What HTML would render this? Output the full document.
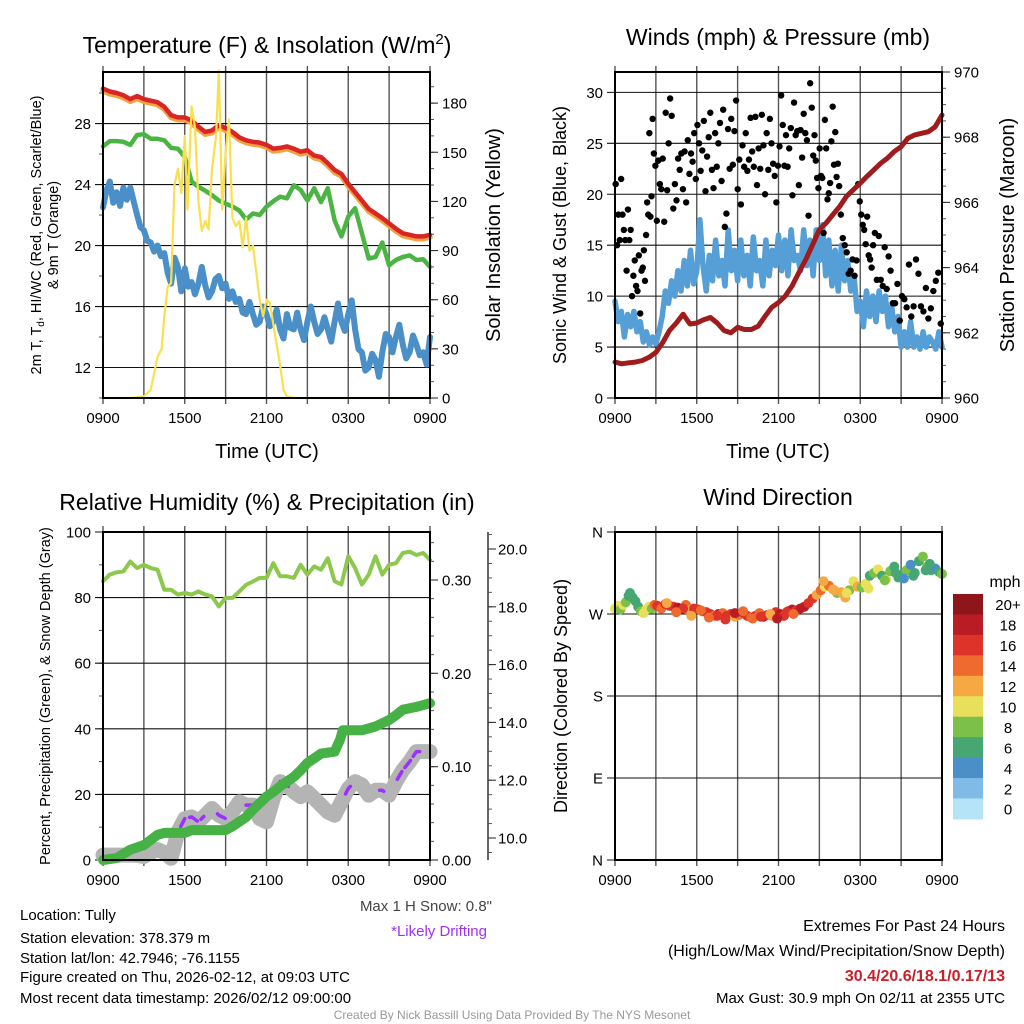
<!DOCTYPE html>
<html><head><meta charset="utf-8"><style>
html,body{margin:0;padding:0;background:#fff;}
svg{display:block;font-family:"Liberation Sans",sans-serif;}
</style></head><body>
<svg id="chart" width="1024" height="1024" viewBox="0 0 1024 1024" xmlns="http://www.w3.org/2000/svg">
<rect width="1024" height="1024" fill="#fff"/>
<text x="267" y="53" font-size="23" text-anchor="middle">Temperature (F) &amp; Insolation (W/m<tspan dy="-9" font-size="15">2</tspan><tspan dy="9">)</tspan></text>
<text x="778" y="45" font-size="23" text-anchor="middle">Winds (mph) &amp; Pressure (mb)</text>
<text x="267" y="510" font-size="23" text-anchor="middle">Relative Humidity (%) &amp; Precipitation (in)</text>
<text x="778" y="505" font-size="23" text-anchor="middle">Wind Direction</text>
<text x="267" y="458" font-size="20" text-anchor="middle">Time (UTC)</text>
<text x="778" y="458" font-size="20" text-anchor="middle">Time (UTC)</text>
<text transform="translate(41,235) rotate(-90)" font-size="14.5" text-anchor="middle">2m T, T<tspan font-size="10" dy="3">d</tspan><tspan dy="-3">, HI/WC (Red, Green, Scarlet/Blue)</tspan></text>
<text transform="translate(58,235) rotate(-90)" font-size="14.5" text-anchor="middle">&amp; 9m T (Orange)</text>
<text transform="translate(500,235) rotate(-90)" font-size="20" text-anchor="middle">Solar Insolation (Yellow)</text>
<text transform="translate(566,235) rotate(-90)" font-size="18" text-anchor="middle">Sonic Wind &amp; Gust (Blue, Black)</text>
<text transform="translate(1014,235) rotate(-90)" font-size="20" text-anchor="middle">Station Pressure (Maroon)</text>
<text transform="translate(50,696) rotate(-90)" font-size="14.5" text-anchor="middle">Percent, Precipitation (Green), &amp; Snow Depth (Gray)</text>
<text transform="translate(567,696) rotate(-90)" font-size="18" text-anchor="middle">Direction (Colored By Speed)</text>
<text x="1005" y="587" font-size="16" text-anchor="middle">mph</text>
<g font-size="15">
<text x="20" y="920">Location: Tully</text>
<text x="20" y="943">Station elevation: 378.379 m</text>
<text x="20" y="963">Station lat/lon: 42.7946; -76.1155</text>
<text x="20" y="982">Figure created on Thu, 2026-02-12, at 09:03 UTC</text>
<text x="20" y="1003">Most recent data timestamp: 2026/02/12 09:00:00</text>
<text x="492" y="911" text-anchor="end" fill="#444">Max 1 H Snow: 0.8"</text>
<text x="487" y="936" text-anchor="end" fill="#a030f0">*Likely Drifting</text>
<text x="1005" y="931" text-anchor="end" font-size="16">Extremes For Past 24 Hours</text>
<text x="1005" y="956" text-anchor="end" font-size="16">(High/Low/Max Wind/Precipitation/Snow Depth)</text>
<text x="1005" y="981" text-anchor="end" font-size="16" font-weight="bold" fill="#c8202a">30.4/20.6/18.1/0.17/13</text>
<text x="1005" y="1003" text-anchor="end">Max Gust: 30.9 mph On 02/11 at 2355 UTC</text>
</g>
<text x="512" y="1019" text-anchor="middle" font-size="12" fill="#999">Created By Nick Bassill Using Data Provided By The NYS Mesonet</text>
</svg>
<script>
// ---------- DATA ----------
const xTickLabels = ['0900','1500','2100','0300','0900'];
const tempRed = [30.3,30.1,30.0,29.85,29.6,29.8,29.6,29.5,29.4,29.1,28.55,28.4,28.4,28.2,27.8,27.45,27.55,27.9,27.7,27.45,27.1,26.9,26.8,26.75,26.6,26.35,26.4,26.5,26.35,26.15,26.25,25.9,25.8,25.4,24.95,24.7,24.05,23.5,22.95,22.4,22.1,21.8,21.45,21.1,20.8,20.7,20.6,20.6,20.7];
const temp9m = [30.15,29.95,29.85,29.7,29.45,29.65,29.45,29.35,29.25,28.95,28.4,28.25,28.25,28.05,27.65,27.3,27.4,27.75,27.55,27.3,26.95,26.75,26.65,26.6,26.45,26.2,26.25,26.35,26.2,26.0,26.1,25.75,25.65,25.25,24.8,24.55,23.9,23.35,22.8,22.25,21.95,21.65,21.3,20.95,20.65,20.55,20.45,20.45,20.55];
const dewGreen = [26.5,26.85,26.85,26.8,26.6,27.25,27.3,27.0,27.0,26.9,26.4,26.35,25.8,24.2,23.85,23.6,23.3,22.95,22.75,22.55,22.3,21.7,22.1,22.0,22.55,22.9,23.2,23.1,23.95,23.65,22.95,23.75,22.85,23.75,21.65,20.6,21.9,22.45,20.8,19.15,19.25,20.2,18.7,19.05,19.25,19.35,19.05,19.1,18.6];
const windChill = [22.5,23.6,24.2,22.8,23.5,22.6,23.8,23.0,23.8,22.9,22.0,21.2,21.0,20.3,20.2,19.6,20.0,19.3,19.5,18.2,17.5,19.2,18.6,17.0,18.5,17.3,17.6,16.8,17.5,18.6,17.4,16.6,17.0,17.8,18.0,17.2,17.5,16.5,17.0,16.3,16.5,15.6,15.5,16.3,15.5,14.8,15.0,16.0,15.5,14.7,15.0,15.8,14.5,13.9,15.5,14.6,14.5,15.6,14.5,13.8,15.0,16.0,15.0,14.2,14.5,15.3,14.5,13.7,15.0,16.2,15.0,14.4,15.5,16.4,14.5,13.2,13.0,11.8,12.0,12.9,12.5,11.4,13.0,14.2,14.0,13.0,14.0,14.8,13.5,12.6,13.0,14.1,13.5,12.8,13.0,12.2,14.0];
const solarHours = [0,1,2,3,3.5,4,4.3,4.5,4.75,5,5.25,5.5,5.75,6,6.2,6.5,6.75,7,7.25,7.5,7.75,8,8.3,8.5,8.75,9,9.25,9.5,9.75,10,10.25,10.5,10.75,11,11.5,11.75,12,12.25,12.5,13,13.25,13.5,14,24];
const solarValues = [0,0,0,1,5,25,30,50,68,70,130,140,125,160,115,178,165,120,102,108,103,140,160,200,115,150,170,110,105,108,92,110,90,93,60,50,60,58,45,20,5,1,0,0];
const windSpeed = [9.5,7.5,8.5,6.0,8.2,7.0,8.5,6.5,7.5,5.5,6.5,5.2,6.0,5.3,6.5,8.0,10.5,9.3,11.5,10.0,12.5,10.5,13.5,11.0,14.5,11.2,12.5,17.5,13.0,10.5,14.0,11.5,15.5,12.0,13.5,11.0,16.5,12.5,14.5,11.5,15.5,12.0,14.0,11.0,15.8,12.5,13.5,11.0,15.5,12.0,14.5,13.0,16.0,12.5,15.5,12.0,16.5,13.5,14.0,12.5,16.5,13.0,15.5,12.0,16.5,13.5,17.0,12.0,15.5,11.0,14.5,10.5,15.0,11.5,13.5,10.5,12.0,8.5,9.5,7.0,10.5,8.0,10.0,7.5,10.5,8.5,10.0,7.0,9.0,6.5,8.0,5.0,6.5,5.0,7.5,5.0,6.0,4.8,6.5,5.0,6.0,5.5,4.8,6.5,5.0];
const gustGroupStart = [0,1,2,2.8,4.1,5.4,6.7,8.0,9.3,10.6,11.9,13.2,14.5,16.5,17.8,19.0,20.3,22.0];
const gustGroups = [
 [21,15,18,15.5,21.5,18,16.5,15.5,12.5,18.5],
 [15.5,16.5,10,12,13.5,11,10.5,14,8.3,12.5],
 [12.8,14.5,11.5,16,19.2,18,26,17.8,19.8,27.4],
 [24,22.8,17.4,23.3,21,20.5,23.5,17.3,28,20.4,25,29.4],
 [27.7,18.6,21,19.4,23.5,22.4,24,20.5,24.2,19.2,25.3],
 [22,24,23.2,26,21.5,26.8,25,22.3,24.3,27.2,20.3],
 [23.7,25.6,28,22.4,20.6,26,22.7,25,27,21.3,28.3],
 [16.8,18.1,26.4,22.5,27.4,22.9,26.2,29.2,20.5,23.4,19],
 [24.8,22.7,26,22.3,23.4,27.5,24.2,22.7,27.6,20.9,24.5],
 [22.5,27.8,24.8,20,26,22.4,27.4,25,23,21.8,19.2],
 [22.8,24.7,29.7,26.8,22.8,25.8,22.7,24.5,26.5,19.9,29],
 [25.8,26.2,20.9,26.3,23.6,27.9,26,25.3,17.9,30.9,28.5],
 [23.8,25.8,23.3,21.6,20.6,24.5,21.8,21.6,16.2,27.3,24.5,19.5,20.1,21.1,25.2,28.6,22.9,26.1,21.7,23,20.8],
 [18,15.7,15,14.3,12.2,12.5,13.6,12,13.5],
 [21,19.3,18,17,16.5,15.1,17.8,14,13.6,12.8,15],
 [16.2,11.6,15.9,11.6,11,14.8,10.7,13.9,12.5],
 [9.3,9.3,11.2,7.6,10,9.7,8.9,13.1,8,9],
 [13.6,12.2,9,8.5,10.8,7.8,8.8,10.5,11.5,12.3,7.3]
];
const pressure = [961.1,961.05,961.08,961.1,961.15,961.25,961.4,961.7,962.07,962.3,962.57,962.27,962.3,962.4,962.47,962.3,962.07,962.0,962.17,962.1,962.1,962.2,962.5,962.78,962.93,963.13,963.44,963.85,964.25,964.7,965.17,965.37,965.63,965.88,966.19,966.39,966.59,966.8,967.0,967.2,967.36,967.56,967.71,967.97,968.07,968.12,968.17,968.32,968.68];
const rhValues = [85,87,87.7,88,91,89,90,89,88.5,82.4,82.4,80.9,81.4,80.9,81.9,80.9,80.4,77.3,79.9,79.9,81.9,83.9,84.9,86,86,90.5,86.5,86.5,86,90,87,89.5,88.5,92,85,84,92.6,89,84,87,92.6,87,90,90.5,93.6,94,93,93.6,91.5];
const precipHours = [0,1,2,3,4,4.5,6,6.5,9,9.5,10,10.5,11,11.5,12,12.5,13,13.5,14,14.5,15,15.5,16,17,17.4,17.6,19,20,21,21.5,22,23,24];
const precipValues = [0,0.002,0.011,0.016,0.027,0.029,0.029,0.032,0.032,0.036,0.041,0.046,0.054,0.061,0.068,0.073,0.079,0.084,0.089,0.096,0.104,0.109,0.114,0.116,0.129,0.139,0.139,0.143,0.15,0.155,0.161,0.164,0.168];
const snowDepth = [9.41,9.41,9.41,9.41,9.41,9.4,9.36,9.5,9.6,9.5,9.3,10.21,10.67,10.73,10.56,10.79,11.02,10.79,10.67,10.9,11.25,11.14,11.14,10.67,10.56,11.37,11.95,11.83,11.6,11.43,11.6,11.37,11.14,10.9,10.79,11.25,11.71,11.95,11.83,11.48,11.65,11.65,11.48,11.95,12.35,12.64,12.99,12.99,12.99];
const driftRanges = [[5.7,7.4],[8.4,9.0],[10.5,11.0],[12.8,13.6],[17.8,18.3],[20.3,20.6],[21.6,23.6]];
const dirHours = [0,0.2,0.4,0.6,0.8,1,1.1,1.3,1.5,1.7,1.9,2.1,2.3,2.5,2.7,2.9,3.1,3.4,3.7,4,4.3,4.6,4.9,5.2,5.5,5.8,6.1,6.4,6.7,7,7.3,7.6,7.9,8.2,8.5,8.8,9.1,9.4,9.7,10,10.3,10.6,10.9,11.2,11.5,11.8,12.1,12.4,12.7,13,13.3,13.6,13.9,14.2,14.5,14.8,15.1,15.4,15.7,16,16.3,16.6,16.9,17.2,17.5,17.8,18.1,18.4,18.7,19,19.3,19.6,19.9,20.2,20.5,20.8,21.1,21.4,21.7,22,22.3,22.6,22.9,23.2,23.5,23.8,24,3.8,5.0,6.3,7.5,8.8,10.1,11.4,12.6,15.3,17.0,19.8,21.9,22.8,4.5,5.6,6.9,8.1,9.4,10.7,11.9,13.1,16.1,18.6,20.6,21.2,23.1];
const dirDegrees = [276,279,275,280,283,290,293,288,284,278,273,271,275,278,276,280,279,276,281,279,278,277,276,280,274,276,275,273,272,270,268,270,271,268,270,267,269,272,268,266,268,271,267,269,268,272,270,268,273,275,274,276,278,282,287,291,296,300,301,297,293,294,288,296,306,300,299,303,312,315,319,312,308,317,322,310,313,318,324,315,328,333,322,318,320,316,314,282,276,274,268,271,265,270,272,306,293,307,312,318,272,268,266,264,273,267,265,270,296,298,315,309,325];
const dirSpeeds = [9,10,8,9,7,6,6,5,5,6,8,9,10,9,8,14,15,13,16,15,16,17,19,14,12,16,15,13,16,15,14,17,13,16,15,12,14,17,15,13,16,14,17,15,12,16,17,16,15,17,16,18,17,15,16,12,13,10,14,12,8,11,12,8,10,11,7,9,6,8,9,6,10,7,6,5,6,7,4,5,6,7,8,6,4,5,7,12,16,13,15,17,14,12,16,11,9,7,5,6,13,12,14,16,13,15,17,14,12,9,6,4,5];
const speedLabels = ['0','2','4','6','8','10','12','14','16','18','20+'];
const speedColors = ['#b5e4f8','#7fbbe6','#4a8fc8','#46a772','#7cc04a','#e8e05a','#f6a843','#ee6a2e','#dc3428','#ba1c26','#8e1519'];

// ---------- HELPERS ----------
const NS='http://www.w3.org/2000/svg';
const svg=document.getElementById('chart');
function mk(tag,attrs,parent){const e=document.createElementNS(NS,tag);for(const k in attrs)e.setAttribute(k,attrs[k]);(parent||svg).appendChild(e);return e;}
function lin(d0,d1,r0,r1){return v=>r0+(v-d0)/(d1-d0)*(r1-r0);}
function pathFrom(xs,ys){let d='';for(let i=0;i<xs.length;i++)d+=(i?'L':'M')+xs[i].toFixed(1)+' '+ys[i].toFixed(1);return d;}
function evenHours(n){const a=[];for(let i=0;i<n;i++)a.push(i*24/(n-1));return a;}

function frame(x0,x1,y0,y1,name){
  const g=mk('g',{});
  
  
  const xs=lin(0,24,x0,x1);
  for(let h=3;h<24;h+=3){
    const l=mk('line',{x1:xs(h),x2:xs(h),y1:y0-6,y2:y1+6,stroke:'#555','stroke-width':1.4},g);
    
    
  }
  [0,24].forEach(h=>{const l=mk('line',{x1:xs(h),x2:xs(h),y1:y0-6,y2:y1+6,stroke:'#555','stroke-width':1.4},g);
    
    });
  xTickLabels.forEach((lab,i)=>{
    const t=mk('text',{x:xs(i*6),y:y1+25,'font-size':15,'text-anchor':'middle'},g);
    t.textContent=lab;
    
    
  });
  return xs;
}
function yAxis(scale,majors,labels,minors,xEdge,side,grid,x0,x1,name,labOff){
  const g=mk('g',{});
  
  
  const dir=side==='left'?-1:1;
  minors.forEach(v=>{const l=mk('line',{x1:xEdge,x2:xEdge+dir*4,y1:scale(v),y2:scale(v),stroke:'#555','stroke-width':1},g);
    
    });
  majors.forEach((v,i)=>{
    const y=scale(v);
    const l=mk('line',{x1:grid?(side==='left'?x1:x0):xEdge,x2:xEdge+dir*8,y1:y,y2:y,stroke:grid?'#111':'#333','stroke-width':1.1},g);
    
    
    const t=mk('text',{x:xEdge+dir*(labOff||12),y:y+5.5,'font-size':15,'text-anchor':side==='left'?'end':'start'},g);
    t.textContent=labels[i];
    
    
  });
}
function range(a,b,s){const r=[];for(let v=a;v<=b+1e-9;v+=s)r.push(+v.toFixed(4));return r;}
function box(x0,x1,y0,y1,name){
  const r=mk('rect',{x:x0,y:y0,width:x1-x0,height:y1-y0,fill:'none',stroke:'#000','stroke-width':2});
  
  
}
function line(xs,ys,color,w,name,extra){
  const p=mk('path',Object.assign({d:pathFrom(xs,ys),fill:'none',stroke:color,'stroke-width':w,'stroke-linejoin':'round','stroke-linecap':'round'},extra||{}));
  
  
  return p;
}

// ---------- PANEL 1: Temperature ----------
(function(){
  const X0=103,X1=430,Y0=72,Y1=398;
  const xs=frame(X0,X1,Y0,Y1,'temp');
  const yT=lin(10,31.38,Y1,Y0), yS=lin(0,199,Y1,Y0);
  yAxis(yT,[12,16,20,24,28],['12','16','20','24','28'],range(10,30,2),X0,'left',true,X0,X1,'temp-y-axis');
  yAxis(yS,range(0,180,30),range(0,180,30).map(String),range(0,190,10),X1,'right',false,X0,X1,'insolation-y-axis');
  line(evenHours(windChill.length).map(xs),windChill.map(yT),'#4a8fc8',6,'windchill-line');
  line(evenHours(dewGreen.length).map(xs),dewGreen.map(yT),'#4bb544',4.5,'dewpoint-line');
  line(evenHours(temp9m.length).map(xs),temp9m.map(yT),'#f7a040',5.5,'temp-9m-line');
  line(evenHours(tempRed.length).map(xs),tempRed.map(yT),'#d82626',4.5,'temp-2m-line');
  line(solarHours.map(xs),solarValues.map(yS),'#f9e04e',2.2,'insolation-line');
  box(X0,X1,Y0,Y1,'temp');
})();

// ---------- PANEL 2: Winds ----------
(function(){
  const X0=615,X1=942,Y0=72,Y1=398;
  const xs=frame(X0,X1,Y0,Y1,'wind');
  const yW=lin(0,32.0,Y1,Y0), yP=lin(960,970,Y1,Y0);
  yAxis(yW,range(0,30,5),range(0,30,5).map(String),[],X0,'left',true,X0,X1,'wind-y-axis');
  yAxis(yP,range(960,970,2),range(960,970,2).map(String),range(960,970,0.5),X1,'right',false,X0,X1,'pressure-y-axis');
  line(evenHours(windSpeed.length).map(xs),windSpeed.map(yW),'#559fd6',5.5,'wind-speed-line');
  gustGroups.forEach((grp,gi)=>{
    const t0=gustGroupStart[gi], t1=gi+1<gustGroupStart.length?gustGroupStart[gi+1]:24;
    grp.forEach((v,i)=>{
      const c=mk('circle',{cx:xs(t0+(t1-t0)*(i+0.5)/grp.length),cy:yW(v),r:3.2,fill:'#000'});
      
      
    });
  });
  line(evenHours(pressure.length).map(xs),pressure.map(yP),'#a01c1c',5,'pressure-line');
  box(X0,X1,Y0,Y1,'wind');
})();

// ---------- PANEL 3: RH & Precip ----------
(function(){
  const X0=103,X1=430,Y0=532,Y1=860;
  const xs=frame(X0,X1,Y0,Y1,'rh');
  const yR=lin(0,100,Y1,Y0), yPr=lin(0,0.3,Y1,580), ySn=lin(10,20,838,549);
  yAxis(yR,range(0,100,20),range(0,100,20).map(String),range(0,100,10),X0,'left',true,X0,X1,'rh-y-axis');
  yAxis(yPr,[0,0.1,0.2,0.3],['0.00','0.10','0.20','0.30'],range(0,0.34,0.02),X1,'right',false,X0,X1,'precip-y-axis');
  const ax=mk('line',{x1:488,x2:488,y1:Y0,y2:Y1,stroke:'#333','stroke-width':1.5});
  
  
  yAxis(ySn,range(10,20,2),range(10,20,2).map(v=>v.toFixed(1)),range(9.5,20.5,0.5),488,'right',false,X0,X1,'snow-y-axis',10);
  const sh=evenHours(snowDepth.length);
  line(sh.map(xs),snowDepth.map(ySn),'#b4b4b4',15,'snow-depth-line');
  driftRanges.forEach(r=>{
    const hx=[],vy=[];
    for(let i=0;i<sh.length-1;i++){
      const a=sh[i],b=sh[i+1];
      const s=Math.max(a,r[0]),e=Math.min(b,r[1]);
      if(e>s){[s,e].forEach(t=>{const f=(t-a)/(b-a);hx.push(xs(t));vy.push(ySn(snowDepth[i]+f*(snowDepth[i+1]-snowDepth[i])));});}
    }
    if(hx.length)line(hx,vy,'#9b30ff',3.5,'drifting-segment',{'stroke-dasharray':'9 5'});
  });
  line(precipHours.map(xs),precipValues.map(yPr),'#46b246',10,'precip-line');
  line(evenHours(rhValues.length).map(xs),rhValues.map(yR),'#8cc84b',4,'rh-line');
  box(X0,X1,Y0,Y1,'rh');
})();

// ---------- PANEL 4: Wind Direction ----------
(function(){
  const X0=615,X1=942,Y0=532,Y1=860;
  const xs=frame(X0,X1,Y0,Y1,'direction');
  const yD=lin(0,360,Y1,Y0);
  yAxis(yD,[0,90,180,270,360],['N','E','S','W','N'],[],X0,'left',true,X0,X1,'direction-y-axis',12);
  dirHours.forEach((h,i)=>{
    const idx=Math.min(10,Math.round(dirSpeeds[i]/2));
    const c=mk('circle',{cx:xs(h),cy:yD(dirDegrees[i]),r:5,fill:speedColors[idx]});
    
    
  });
  box(X0,X1,Y0,Y1,'direction');
  const cb=mk('g',{});
  
  
  const n=speedLabels.length, top=594, h=20.45;
  for(let k=0;k<n;k++){
    const j=n-1-k;
    const r=mk('rect',{x:953,y:top+k*h,width:30,height:h+0.5,fill:speedColors[j]},cb);
    
    
    const t=mk('text',{x:1008,y:top+k*h+h/2+6,'font-size':15,'text-anchor':'middle'},cb);
    t.textContent=speedLabels[j];
    
    
  }
})();
</script>
</body></html>
